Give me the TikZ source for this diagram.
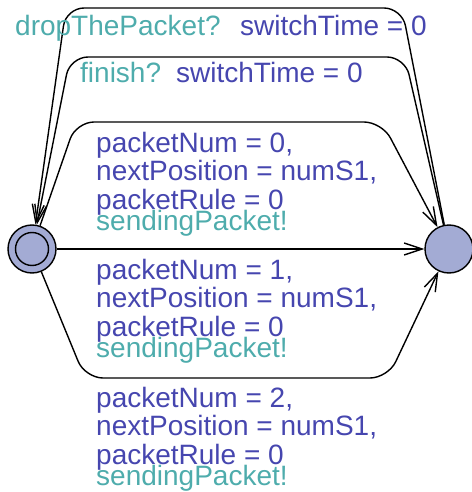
\documentclass[tikz,border=0pt]{standalone}
\usepackage{fontspec}
\setmainfont{Liberation Sans}
\usetikzlibrary{arrows.meta}
\definecolor{locfill}{RGB}{163,171,212}
\definecolor{assigncol}{RGB}{70,70,175}
\definecolor{synccol}{RGB}{78,172,172}
\tikzset{
  loc/.style={circle,draw,fill=locfill,line width=1.4pt,minimum size=48pt,inner sep=0pt},
  initloc/.style={loc,path picture={\draw[line width=1.4pt] (path picture bounding box.center) circle (16.5pt);}},
  trans/.style={line width=1.4pt,rounded corners=18pt},
  sync/.style={text=synccol,anchor=base west,inner sep=0pt,font=\fontsize{28}{28.5}\selectfont},
  assign/.style={text=assigncol,anchor=base west,inner sep=0pt,align=left,font=\fontsize{28}{28.5}\selectfont},
}
\begin{document}
\begin{tikzpicture}[x=1pt,y=-1pt,>={Straight Barb[length=18pt,width=12pt]}]
\useasboundingbox (0,0) rectangle (471,492);

\node[initloc] (start) at (32,249) {};
\node[loc] (sent) at (449,249) {};

% nails of the transitions
\coordinate (dropR) at (402,8);
\coordinate (dropL) at (66,8);
\coordinate (finR) at (405,57);
\coordinate (finL) at (70,57);
\coordinate (upL) at (76,122);
\coordinate (upR) at (382,122);
\coordinate (downL) at (85,378);
\coordinate (downR) at (388,378);

\draw[trans,->] (sent) -- (dropR) -- (dropL) -- (start);
\draw[trans,->] (sent) -- (finR) -- (finL) -- (start);
\draw[trans,->] (start) -- (upL) -- (upR) -- (sent);
\draw[trans,->] (start) -- (sent);
\draw[trans,->] (start) -- (downL) -- (downR) -- (sent);

\node[sync] (dropLbl) at (15,36) {dropThePacket?};
\node[assign] (dropSet) at (240,36) {switchTime = 0};
\node[sync] (finLbl) at (80,83) {finish?};
\node[assign] (finSet) at (176,83) {switchTime = 0};

% base of a multi-line label is its last line
\node[assign] (setA) at (96,209) {packetNum = 0,\\nextPosition = numS1,\\packetRule = 0};
\node[sync] (sendA) at (96,230) {sendingPacket!};
\node[assign] (setB) at (96,336) {packetNum = 1,\\nextPosition = numS1,\\packetRule = 0};
\node[sync] (sendB) at (96,357) {sendingPacket!};
\node[assign] (setC) at (96,464) {packetNum = 2,\\nextPosition = numS1,\\packetRule = 0};
\node[sync] (sendC) at (96,485) {sendingPacket!};
\end{tikzpicture}
\end{document}
